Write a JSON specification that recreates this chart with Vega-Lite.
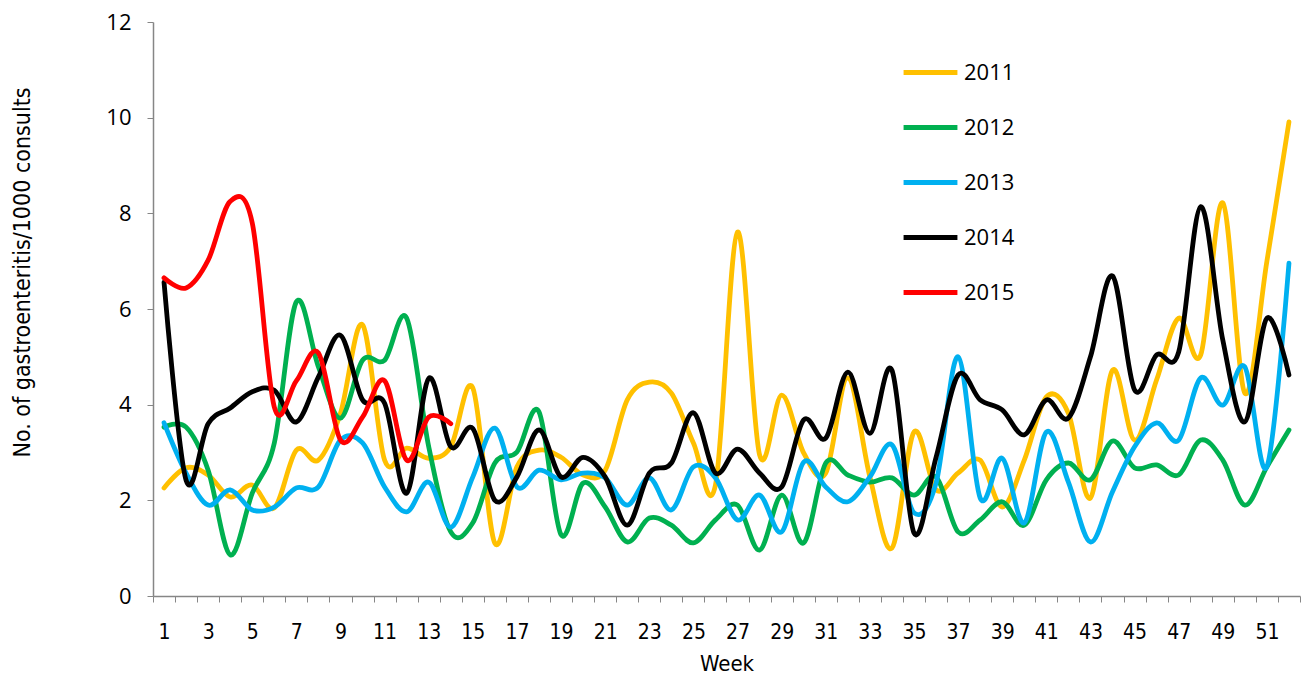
{
  "$schema": "https://vega.github.io/schema/vega-lite/v6.json",
  "width": 1147,
  "height": 574,
  "autosize": {"type": "none"},
  "padding": {"left": 153, "top": 22, "right": 9, "bottom": 84},
  "background": "white",
  "config": {"view": {"stroke": null}},
  "datasets": {
    "wide": [
      {"week":1,"2011":2.26,"2012":3.53,"2013":3.62,"2014":6.56,"2015":6.65},
      {"week":2,"2011":2.68,"2012":3.53,"2013":2.57,"2014":2.42,"2015":6.44},
      {"week":3,"2011":2.53,"2012":2.63,"2013":1.9,"2014":3.6,"2015":7.02},
      {"week":4,"2011":2.07,"2012":0.86,"2013":2.22,"2014":3.93,"2015":8.25},
      {"week":5,"2011":2.32,"2012":2.15,"2013":1.8,"2014":4.27,"2015":7.8},
      {"week":6,"2011":1.84,"2012":3.2,"2013":1.86,"2014":4.3,"2015":3.95},
      {"week":7,"2011":3.05,"2012":6.15,"2013":2.26,"2014":3.64,"2015":4.5},
      {"week":8,"2011":2.84,"2012":4.79,"2013":2.28,"2014":4.58,"2015":5.08},
      {"week":9,"2011":3.82,"2012":3.72,"2013":3.26,"2014":5.45,"2015":3.26},
      {"week":10,"2011":5.67,"2012":4.93,"2013":3.2,"2014":4.1,"2015":3.74},
      {"week":11,"2011":2.84,"2012":4.93,"2013":2.28,"2014":4.03,"2015":4.5},
      {"week":12,"2011":3.09,"2012":5.81,"2013":1.76,"2014":2.15,"2015":2.84},
      {"week":13,"2011":2.88,"2012":3.12,"2013":2.38,"2014":4.55,"2015":3.74},
      {"week":14,"2011":3.12,"2012":1.34,"2013":1.44,"2014":3.12,"2015":3.6},
      {"week":15,"2011":4.35,"2012":1.53,"2013":2.49,"2014":3.5},
      {"week":16,"2011":1.1,"2012":2.78,"2013":3.51,"2014":2.0},
      {"week":17,"2011":2.7,"2012":3.01,"2013":2.28,"2014":2.49},
      {"week":18,"2011":3.05,"2012":3.85,"2013":2.63,"2014":3.47},
      {"week":19,"2011":2.9,"2012":1.28,"2013":2.43,"2014":2.49},
      {"week":20,"2011":2.53,"2012":2.36,"2013":2.57,"2014":2.9},
      {"week":21,"2011":2.63,"2012":1.86,"2013":2.47,"2014":2.49},
      {"week":22,"2011":4.1,"2012":1.13,"2013":1.9,"2014":1.48},
      {"week":23,"2011":4.47,"2012":1.63,"2013":2.47,"2014":2.57},
      {"week":24,"2011":4.24,"2012":1.48,"2013":1.8,"2014":2.78},
      {"week":25,"2011":3.2,"2012":1.11,"2013":2.7,"2014":3.83},
      {"week":26,"2011":2.32,"2012":1.59,"2013":2.47,"2014":2.57},
      {"week":27,"2011":7.61,"2012":1.9,"2013":1.59,"2014":3.07},
      {"week":28,"2011":2.95,"2012":0.96,"2013":2.11,"2014":2.57},
      {"week":29,"2011":4.2,"2012":2.11,"2013":1.34,"2014":2.28},
      {"week":30,"2011":2.99,"2012":1.11,"2013":2.8,"2014":3.68},
      {"week":31,"2011":2.57,"2012":2.78,"2013":2.28,"2014":3.3},
      {"week":32,"2011":4.56,"2012":2.53,"2013":1.97,"2014":4.68},
      {"week":33,"2011":2.49,"2012":2.38,"2013":2.49,"2014":3.4},
      {"week":34,"2011":1.0,"2012":2.47,"2013":3.16,"2014":4.72},
      {"week":35,"2011":3.43,"2012":2.11,"2013":1.74,"2014":1.32},
      {"week":36,"2011":2.22,"2012":2.49,"2013":2.36,"2014":2.9},
      {"week":37,"2011":2.57,"2012":1.34,"2013":5.0,"2014":4.62},
      {"week":38,"2011":2.84,"2012":1.59,"2013":2.05,"2014":4.1},
      {"week":39,"2011":1.86,"2012":1.97,"2013":2.88,"2014":3.89},
      {"week":40,"2011":2.84,"2012":1.48,"2013":1.53,"2014":3.37},
      {"week":41,"2011":4.16,"2012":2.43,"2013":3.43,"2014":4.1},
      {"week":42,"2011":3.82,"2012":2.78,"2013":2.38,"2014":3.72},
      {"week":43,"2011":2.05,"2012":2.43,"2013":1.13,"2014":5.0},
      {"week":44,"2011":4.72,"2012":3.24,"2013":2.18,"2014":6.69},
      {"week":45,"2011":3.26,"2012":2.68,"2013":3.12,"2014":4.31},
      {"week":46,"2011":4.52,"2012":2.74,"2013":3.62,"2014":5.04},
      {"week":47,"2011":5.81,"2012":2.53,"2013":3.26,"2014":5.1},
      {"week":48,"2011":5.04,"2012":3.26,"2013":4.56,"2014":8.14},
      {"week":49,"2011":8.22,"2012":2.84,"2013":3.99,"2014":5.35},
      {"week":50,"2011":4.24,"2012":1.9,"2013":4.79,"2014":3.64},
      {"week":51,"2011":7.0,"2012":2.7,"2013":2.7,"2014":5.81},
      {"week":52,"2011":9.91,"2012":3.47,"2013":6.96,"2014":4.62}
    ]
  },
  "data": {"name": "wide"},
  "transform": [
    {"fold": ["2011", "2012", "2013", "2014", "2015"], "as": ["year", "value"]},
    {"filter": "isValid(datum.value)"}
  ],
  "mark": {"type": "line", "interpolate": "cardinal", "strokeWidth": 4.8, "strokeCap": "round", "strokeJoin": "round"},
  "encoding": {
    "x": {
      "field": "week",
      "type": "ordinal",
      "sort": "ascending",
      "scale": {"type": "band", "paddingInner": 0, "paddingOuter": 0},
      "axis": {
        "title": "Week",
        "labelAngle": 0,
        "labelExpr": "datum.value % 2 == 1 ? datum.label : ''",
        "labelOverlap": false,
        "labelFont": "Liberation Sans Narrow, DejaVu Sans Condensed, sans-serif",
        "labelFontSize": 21,
        "labelColor": "#000000",
        "labelPadding": 19,
        "tickBand": "extent",
        "tickSize": 6,
        "tickColor": "#868686",
        "domainColor": "#868686",
        "domainWidth": 1.5,
        "titleFont": "Liberation Sans Narrow, DejaVu Sans Condensed, sans-serif",
        "titleFontSize": 22,
        "titleFontWeight": "normal",
        "titleColor": "#000000",
        "titlePadding": 11
      }
    },
    "y": {
      "field": "value",
      "type": "quantitative",
      "scale": {"domain": [0, 12], "nice": false},
      "axis": {
        "title": "No. of gastroenteritis/1000 consults",
        "values": [0, 2, 4, 6, 8, 10, 12],
        "grid": false,
        "labelFont": "Open Sans",
        "labelFontSize": 22,
        "labelColor": "#000000",
        "labelPadding": 16,
        "tickSize": 6,
        "tickColor": "#868686",
        "domainColor": "#868686",
        "domainWidth": 1.5,
        "titleFont": "Liberation Sans Narrow, DejaVu Sans Condensed, sans-serif",
        "titleFontSize": 23,
        "titleFontWeight": "normal",
        "titleColor": "#000000",
        "titleAngle": -90,
        "titleBaseline": "middle",
        "titleX": -131,
        "titleY": 250
      }
    },
    "color": {
      "field": "year",
      "type": "nominal",
      "scale": {"domain": ["2011", "2012", "2013", "2014", "2015"], "range": ["#FFC000", "#00B050", "#00B0F0", "#000000", "#FF0000"]},
      "legend": {
        "title": null,
        "orient": "none",
        "legendX": 748,
        "legendY": 21,
        "symbolType": "stroke",
        "symbolSize": 2900,
        "symbolStrokeWidth": 5,
        "rowPadding": 14,
        "labelOffset": 4,
        "labelFont": "Open Sans",
        "labelFontSize": 22,
        "labelColor": "#000000"
      }
    }
  }
}
